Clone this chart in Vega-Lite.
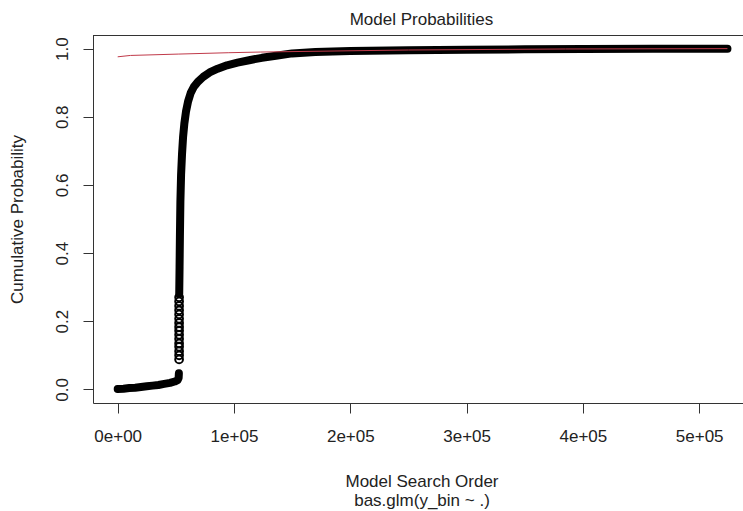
{
  "$schema": "https://vega.github.io/schema/vega-lite/v6.json",
  "width": 650,
  "height": 368,
  "autosize": {"type": "none"},
  "padding": {"left": 93, "top": 35, "right": 0, "bottom": 108},
  "background": "white",
  "title": {
    "text": "Model Probabilities",
    "font": "Liberation Sans",
    "fontSize": 17,
    "fontWeight": "normal",
    "color": "#222222",
    "anchor": "middle",
    "baseline": "alphabetic",
    "offset": -7,
    "dx": 3.5
  },
  "config": {
    "view": {"stroke": null},
    "axis": {
      "grid": false,
      "domainColor": "#333333",
      "domainWidth": 1,
      "tickColor": "#333333",
      "tickWidth": 1,
      "tickSize": 10,
      "labelFont": "Liberation Sans",
      "labelFontSize": 17,
      "labelColor": "#222222",
      "labelOverlap": false,
      "labelFlush": false,
      "titleFont": "Liberation Sans",
      "titleFontSize": 17,
      "titleFontWeight": "normal",
      "titleColor": "#222222"
    }
  },
  "datasets": {
    "cumprob": [
      {"seg": "a", "x": 0, "p": 0.001},
      {"seg": "a", "x": 5000, "p": 0.002},
      {"seg": "a", "x": 10000, "p": 0.004},
      {"seg": "a", "x": 15000, "p": 0.005},
      {"seg": "a", "x": 20000, "p": 0.007},
      {"seg": "a", "x": 25000, "p": 0.009},
      {"seg": "a", "x": 30000, "p": 0.011},
      {"seg": "a", "x": 35000, "p": 0.013},
      {"seg": "a", "x": 40000, "p": 0.016},
      {"seg": "a", "x": 45000, "p": 0.019},
      {"seg": "a", "x": 49000, "p": 0.023},
      {"seg": "a", "x": 51500, "p": 0.027},
      {"seg": "a", "x": 52400, "p": 0.034},
      {"seg": "a", "x": 52600, "p": 0.047},
      {"seg": "b", "x": 52900, "p": 0.28},
      {"seg": "b", "x": 53200, "p": 0.36},
      {"seg": "b", "x": 53500, "p": 0.45},
      {"seg": "b", "x": 53900, "p": 0.55},
      {"seg": "b", "x": 54500, "p": 0.63},
      {"seg": "b", "x": 55300, "p": 0.69},
      {"seg": "b", "x": 56200, "p": 0.74},
      {"seg": "b", "x": 57300, "p": 0.78},
      {"seg": "b", "x": 58700, "p": 0.815},
      {"seg": "b", "x": 60500, "p": 0.845},
      {"seg": "b", "x": 62800, "p": 0.87},
      {"seg": "b", "x": 65500, "p": 0.888},
      {"seg": "b", "x": 69000, "p": 0.903},
      {"seg": "b", "x": 73500, "p": 0.917},
      {"seg": "b", "x": 79000, "p": 0.93},
      {"seg": "b", "x": 86000, "p": 0.941},
      {"seg": "b", "x": 94000, "p": 0.951},
      {"seg": "b", "x": 103000, "p": 0.959},
      {"seg": "b", "x": 113000, "p": 0.966},
      {"seg": "b", "x": 124000, "p": 0.973},
      {"seg": "b", "x": 136000, "p": 0.979},
      {"seg": "b", "x": 150000, "p": 0.986},
      {"seg": "b", "x": 170000, "p": 0.99},
      {"seg": "b", "x": 200000, "p": 0.993},
      {"seg": "b", "x": 250000, "p": 0.995},
      {"seg": "b", "x": 300000, "p": 0.997},
      {"seg": "b", "x": 350000, "p": 0.998},
      {"seg": "b", "x": 400000, "p": 0.999},
      {"seg": "b", "x": 460000, "p": 0.9995},
      {"seg": "b", "x": 524288, "p": 1.0}
    ],
    "jump": [
      {"x": 52800, "p": 0.088},
      {"x": 52800, "p": 0.1},
      {"x": 52800, "p": 0.112},
      {"x": 52800, "p": 0.125},
      {"x": 52800, "p": 0.135},
      {"x": 52800, "p": 0.148},
      {"x": 52800, "p": 0.16},
      {"x": 52800, "p": 0.172},
      {"x": 52800, "p": 0.183},
      {"x": 52800, "p": 0.195},
      {"x": 52800, "p": 0.207},
      {"x": 52800, "p": 0.22},
      {"x": 52800, "p": 0.232},
      {"x": 52800, "p": 0.245},
      {"x": 52800, "p": 0.258},
      {"x": 52800, "p": 0.27}
    ],
    "smooth": [
      {"x": 0, "p": 0.976},
      {"x": 11000, "p": 0.98},
      {"x": 52000, "p": 0.984},
      {"x": 95000, "p": 0.988},
      {"x": 123000, "p": 0.99},
      {"x": 186000, "p": 0.993},
      {"x": 250000, "p": 0.996},
      {"x": 385000, "p": 0.999},
      {"x": 524288, "p": 1.0}
    ]
  },
  "layer": [
    {
      "data": {"name": "cumprob"},
      "mark": {"type": "line", "color": "black", "strokeWidth": 8, "strokeCap": "round", "strokeJoin": "round"},
      "encoding": {
        "x": {
          "field": "x",
          "type": "quantitative",
          "scale": {"domain": [-21238, 537661], "nice": false, "zero": false},
          "axis": {
            "values": [0, 100000, 200000, 300000, 400000, 500000],
            "labelExpr": "datum.value == 0 ? '0e+00' : format(datum.value / 100000, 'd') + 'e+05'",
            "labelBaseline": "alphabetic",
            "labelPadding": 28.7,
            "title": ["Model Search Order", "bas.glm(y_bin ~ .)"],
            "titleX": 328.5,
            "titleY": 83.7,
            "titleAlign": "center",
            "titleBaseline": "alphabetic",
            "titleLineHeight": 18.5
          }
        },
        "y": {
          "field": "p",
          "type": "quantitative",
          "scale": {"domain": [-0.04, 1.04], "nice": false, "zero": false},
          "axis": {
            "values": [0, 0.2, 0.4, 0.6, 0.8, 1.0],
            "format": ".1f",
            "labelAngle": 270,
            "labelAlign": "center",
            "labelBaseline": "alphabetic",
            "labelPadding": 15.5,
            "title": "Cumulative Probability",
            "titleAngle": 270,
            "titleX": -70.5,
            "titleY": 184,
            "titleAlign": "center",
            "titleBaseline": "alphabetic"
          }
        },
        "detail": {"field": "seg", "type": "nominal"}
      }
    },
    {
      "data": {"name": "jump"},
      "mark": {"type": "point", "shape": "circle", "filled": false, "color": "black", "size": 60, "strokeWidth": 2, "opacity": 1},
      "encoding": {
        "x": {"field": "x", "type": "quantitative"},
        "y": {"field": "p", "type": "quantitative"}
      }
    },
    {
      "data": {"name": "smooth"},
      "mark": {"type": "line", "color": "#c03a4a", "strokeWidth": 1},
      "encoding": {
        "x": {"field": "x", "type": "quantitative"},
        "y": {"field": "p", "type": "quantitative"}
      }
    },
    {
      "data": {"values": [{"edge": "top"}]},
      "mark": {"type": "rule", "color": "#333333", "strokeWidth": 1},
      "encoding": {
        "y": {"datum": 1.0385}
      }
    }
  ]
}
